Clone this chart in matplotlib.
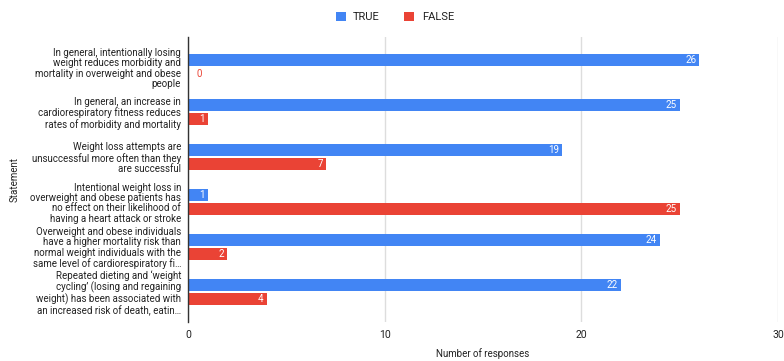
import numpy as np
import matplotlib.pyplot as plt

plt.rcParams["font.family"] = ["Roboto", "DejaVu Sans"]

statements = [
    "In general, intentionally losing\nweight reduces morbidity and\nmortality in overweight and obese\npeople",
    "In general, an increase in\ncardiorespiratory fitness reduces\nrates of morbidity and mortality",
    "Weight loss attempts are\nunsuccessful more often than they\nare successful",
    "Intentional weight loss in\noverweight and obese patients has\nno effect on their likelihood of\nhaving a heart attack or stroke",
    "Overweight and obese individuals\nhave a higher mortality risk than\nnormal weight individuals with the\nsame level of cardiorespiratory fi\u2026",
    "Repeated dieting and \u2018weight\ncycling\u2019 (losing and regaining\nweight) has been associated with\nan increased risk of death, eatin\u2026",
]
true_counts = [26, 25, 19, 1, 24, 22]
false_counts = [0, 1, 7, 25, 2, 4]

blue = "#4285F4"
red = "#EA4335"
txt = "#222222"

fig = plt.figure(figsize=(7.84, 3.61), dpi=100)
ax = fig.add_axes([188 / 784, 1 - 322 / 361, 590 / 784, 285 / 361])

y = np.arange(len(statements))
h = 0.27
off = 0.155
b_true = ax.barh(y - off, true_counts, height=h, color=blue, label="TRUE", zorder=3)
b_false = ax.barh(y + off, false_counts, height=h, color=red, label="FALSE", zorder=3)

# value labels: white inside the bar end, coloured outside for empty bars
for bars, vals, col in [(b_true, true_counts, blue), (b_false, false_counts, red)]:
    for rect, v in zip(bars, vals):
        cy = rect.get_y() + rect.get_height() / 2
        if v == 0:
            ax.text(0.45, cy, str(v), color=col, fontsize=7, ha="left", va="center", zorder=4)
        else:
            ax.text(v - 0.15, cy, str(v), color="white", fontsize=7, ha="right", va="center", zorder=4)

ax.set_xlim(0, 30)
ax.set_ylim(len(statements) - 0.33, -0.67)
ax.set_xticks([0, 10, 20, 30])
ax.set_yticks(y)
ax.set_yticklabels(statements, fontsize=7, color=txt, linespacing=1.05)
ax.tick_params(axis="x", labelsize=7.5, colors=txt, length=0, pad=6)
ax.tick_params(axis="y", length=0, pad=5)

ax.grid(axis="x", color="#dddddd", linewidth=1, zorder=0)
for s in ["top", "right", "bottom"]:
    ax.spines[s].set_visible(False)
ax.spines["left"].set_color("#333333")
ax.spines["left"].set_linewidth(1)
ax.spines["left"].set_zorder(5)

fig.text(483 / 784, 1 - 354 / 361, "Number of responses", fontsize=7, color=txt,
         ha="center", va="center")
fig.text(15 / 784, 1 - 180 / 361, "Statement", rotation=90, fontsize=7, color=txt,
         ha="center", va="center")

fig.legend(handles=[b_true, b_false], loc="center", bbox_to_anchor=(395 / 784, 1 - 17 / 361),
           ncol=2, frameon=False, fontsize=8, handlelength=0.9, handleheight=0.9,
           columnspacing=2.2, handletextpad=0.7, labelcolor=txt)

fig.savefig("out.png", dpi=100)
